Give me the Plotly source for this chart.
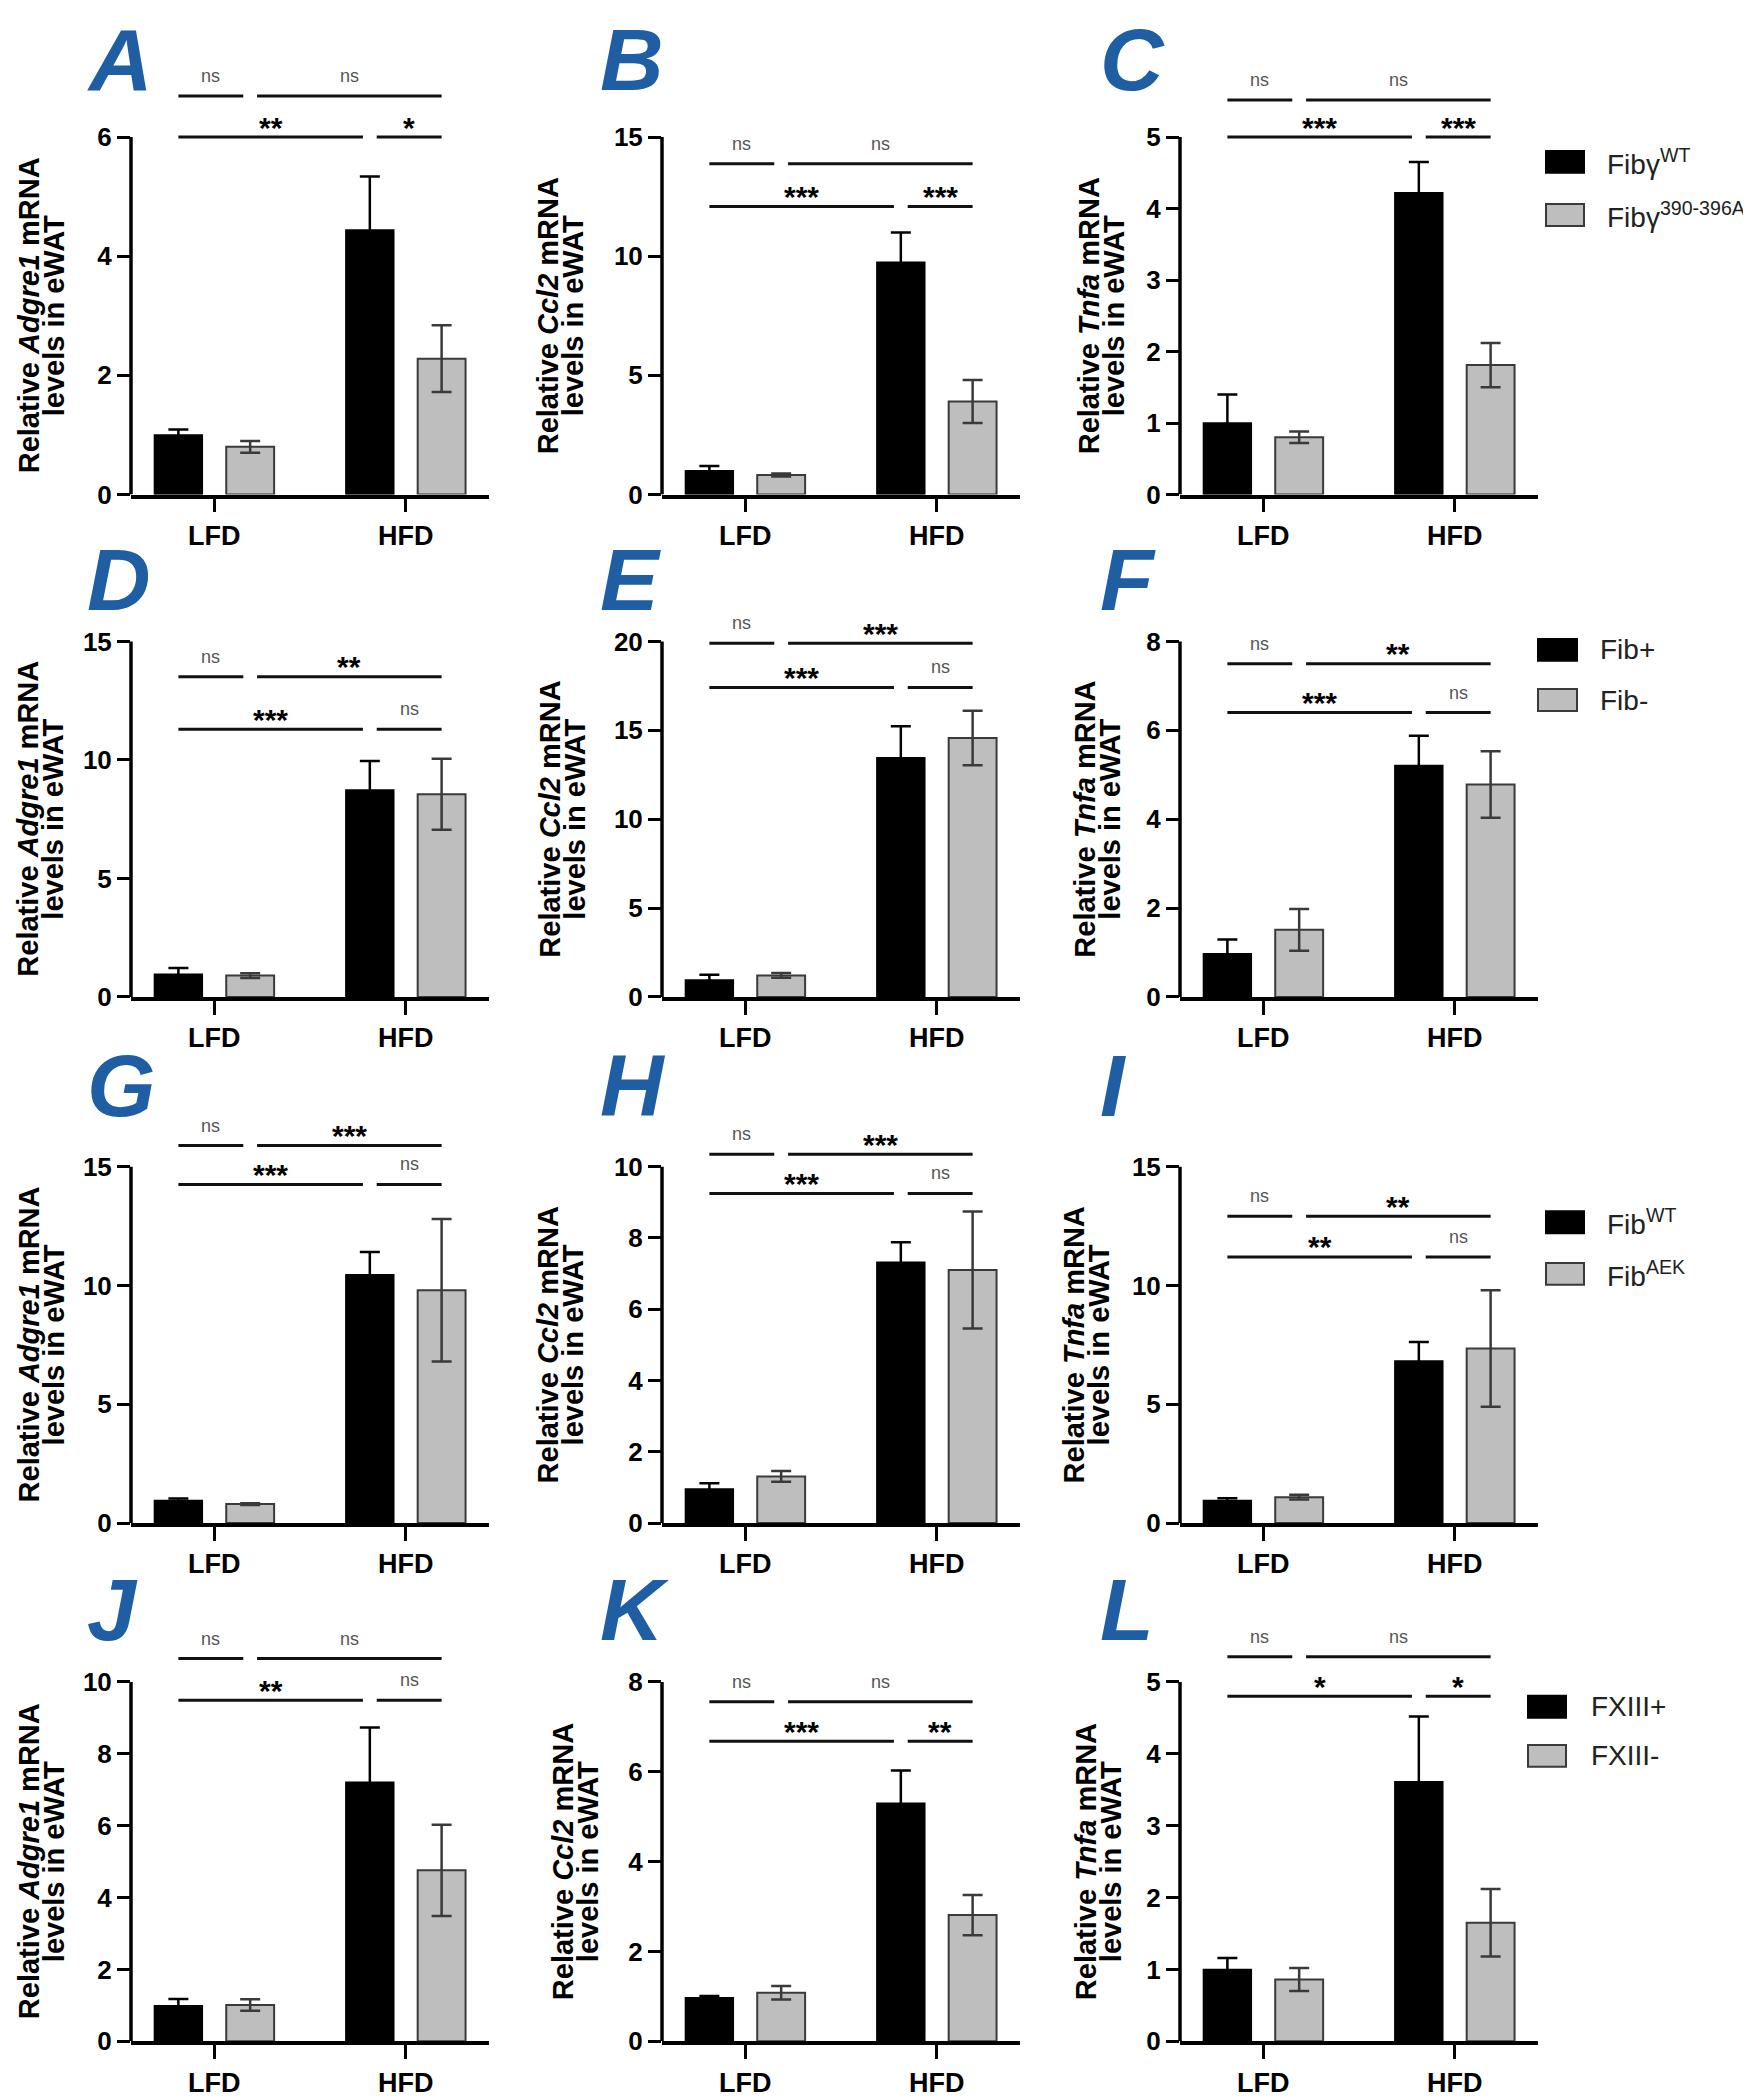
import plotly.graph_objects as go
from plotly.subplots import make_subplots

W, H = 1751, 2100
FONT = "Liberation Sans, Arial, Helvetica, sans-serif"

# ---------------- data ----------------
categories = ["LFD", "HFD"]
panel_letters = ["A", "B", "C", "D", "E", "F", "G", "H", "I", "J", "K", "L"]
genes = ["Adgre1", "Ccl2", "Tnfa"] * 4

black_vals = [[1.0, 4.44], [1.0, 9.75], [1.0, 4.22],
              [0.95, 8.73], [0.95, 13.45], [0.97, 5.21],
              [0.95, 10.45], [0.96, 7.32], [0.95, 6.82],
              [0.99, 7.21], [0.97, 5.30], [1.0, 3.61]]
black_err = [[0.09, 0.90], [0.20, 1.24], [0.40, 0.43],
             [0.27, 1.22], [0.30, 1.78], [0.32, 0.67],
             [0.08, 0.96], [0.16, 0.56], [0.10, 0.80],
             [0.19, 1.52], [0.04, 0.73], [0.16, 0.91]]
gray_vals = [[0.80, 2.28], [0.82, 3.90], [0.80, 1.81],
             [0.90, 8.55], [1.21, 14.57], [1.51, 4.78],
             [0.80, 9.80], [1.31, 7.10], [1.09, 7.35],
             [1.01, 4.76], [1.08, 2.81], [0.86, 1.65]]
gray_err = [[0.10, 0.56], [0.06, 0.90], [0.08, 0.31],
            [0.10, 1.50], [0.13, 1.53], [0.47, 0.75],
            [0.04, 3.00], [0.15, 1.64], [0.10, 2.45],
            [0.16, 1.27], [0.15, 0.45], [0.16, 0.47]]

y_ticks = [[0, 2, 4, 6], [0, 5, 10, 15], [0, 1, 2, 3, 4, 5],
           [0, 5, 10, 15], [0, 5, 10, 15, 20], [0, 2, 4, 6, 8],
           [0, 5, 10, 15], [0, 2, 4, 6, 8, 10], [0, 5, 10, 15],
           [0, 2, 4, 6, 8, 10], [0, 2, 4, 6, 8], [0, 1, 2, 3, 4, 5]]

# significance brackets (heights in data units)
bracket_upper = [6.69, 13.88, 5.52, 13.51, 19.9, 7.5, 15.89, 10.35, 12.91, 10.65, 7.56, 5.35]
bracket_lower = [6.0, 12.09, 5.0, 11.29, 17.41, 6.40, 14.25, 9.25, 11.2, 9.49, 6.68, 4.80]
sig_upper_left = ["ns"] * 12
sig_upper_right = ["ns", "ns", "ns", "**", "***", "**", "***", "***", "**", "ns", "ns", "ns"]
sig_lower_left = ["**", "***", "***", "***", "***", "***", "***", "***", "**", "**", "***", "*"]
sig_lower_right = ["*", "***", "***", "ns", "ns", "ns", "ns", "ns", "ns", "ns", "**", "*"]

legend_labels = [["Fibγ<sup>WT</sup>", "Fibγ<sup>390-396A</sup>"],
                 ["Fib+", "Fib-"],
                 ["Fib<sup>WT</sup>", "Fib<sup>AEK</sup>"],
                 ["FXIII+", "FXIII-"]]

# ---------------- geometry (pixels) ----------------
col_x = [(123, 481), (654, 1012), (1172, 1530)]
row_y = [(50, 490, 130), (600, 996, 638), (1104, 1526, 1167), (1622, 2048, 1686)]  # (domain top, zero, top tick)
title_offset = [90, 102, 79, 90, 99, 82, 90, 102, 94, 90, 87, 82]
letter_x = [77, 590, 1090]
letter_base = [82, 608, 1118, 1646]
legend_geo = [(1538, 1576, 155, 208.5, 1597), (1530, 1569, 646.5, 697, 1590),
              (1538, 1576, 1223, 1275, 1597), (1520, 1558, 1711, 1760.5, 1581)]

BLACK = "#000000"
GRAY = "#BEBEBE"
GRAY_LINE = "#3a3a3a"
BLUE = "#1F5EA3"


def px_x(p):
    return p / W


def px_y(p):
    return 1 - p / H


fig = make_subplots(rows=4, cols=3)

shapes = []
annotations = []
bar_x = [-0.1875, 0.1875, 0.8125, 1.1875]
trim = 0.036

for k in range(12):
    r, c = divmod(k, 3)
    xa = "x" if k == 0 else f"x{k + 1}"
    ya = "y" if k == 0 else f"y{k + 1}"
    xl = "xaxis" if k == 0 else f"xaxis{k + 1}"
    yl = "yaxis" if k == 0 else f"yaxis{k + 1}"

    fig.add_trace(go.Bar(
        x=categories, y=black_vals[k],
        error_y=dict(type="data", array=black_err[k], color=BLACK, thickness=2.5, width=10),
        marker=dict(color=BLACK, line=dict(color=BLACK, width=1.5)),
        xaxis=xa, yaxis=ya, showlegend=False, name=legend_labels[r][0]))
    fig.add_trace(go.Bar(
        x=categories, y=gray_vals[k],
        error_y=dict(type="data", array=gray_err[k], color=GRAY_LINE, thickness=2.5, width=10),
        marker=dict(color=GRAY, line=dict(color=GRAY_LINE, width=2)),
        xaxis=xa, yaxis=ya, showlegend=False, name=legend_labels[r][1]))

    dtop, y0p, ttop = row_y[r]
    tmax = max(y_ticks[k])
    top = tmax * (y0p - dtop) / (y0p - ttop)
    cx0, cx1 = col_x[c]

    fig.layout[xl].update(
        domain=[px_x(cx0), px_x(cx1)], range=[-0.435, 1.435], type="category",
        showline=True, linewidth=3.5, linecolor="black", ticks="outside", ticklen=14,
        tickwidth=3, tickcolor="black", showgrid=False, zeroline=False,
        tickfont=dict(family=FONT, size=27, color="black", weight="bold"))
    fig.layout[yl].update(
        domain=[px_y(y0p), px_y(dtop)], range=[0, top], tickmode="array", tickvals=y_ticks[k],
        showline=False, ticks="outside", ticklen=13, tickwidth=3, tickcolor="black",
        showgrid=False, zeroline=False,
        tickfont=dict(family=FONT, size=26, color="black", weight="bold"))

    # y axis line only up to the top tick
    shapes.append(dict(type="line", xref=f"{xa} domain", x0=0, x1=0, yref=ya, y0=0, y1=tmax,
                       line=dict(color="black", width=3.5)))

    # brackets
    segs = [(bar_x[0], bar_x[1] - trim, bracket_upper[k], sig_upper_left[k]),
            (bar_x[1] + trim, bar_x[3], bracket_upper[k], sig_upper_right[k]),
            (bar_x[0], bar_x[2] - trim, bracket_lower[k], sig_lower_left[k]),
            (bar_x[2] + trim, bar_x[3], bracket_lower[k], sig_lower_right[k])]
    for x0, x1, yv, lab in segs:
        shapes.append(dict(type="line", xref=xa, yref=ya, x0=x0, x1=x1, y0=yv, y1=yv,
                           line=dict(color="#111111", width=3)))
        if lab == "ns":
            annotations.append(dict(xref=xa, yref=ya, x=(x0 + x1) / 2, y=yv, text="ns",
                                    showarrow=False, yanchor="middle", yshift=20,
                                    font=dict(family=FONT, size=18, color="#555555")))
        else:
            annotations.append(dict(xref=xa, yref=ya, x=(x0 + x1) / 2, y=yv, text=lab,
                                    showarrow=False, yanchor="middle", yshift=10,
                                    font=dict(family=FONT, size=30, color="black", weight="bold")))

    # y axis title (two lines), centred on the tick range
    xc = cx0 - title_offset[k]
    yc = (ttop + y0p) / 2
    annotations.append(dict(xref="paper", yref="paper", x=px_x(xc - 12.5), y=px_y(yc),
                            text=f"Relative <i>{genes[k]}</i> mRNA", textangle=-90,
                            showarrow=False, xanchor="center", yanchor="middle",
                            font=dict(family=FONT, size=29, color="black", weight="bold")))
    annotations.append(dict(xref="paper", yref="paper", x=px_x(xc + 12.5), y=px_y(yc),
                            text="levels in eWAT", textangle=-90,
                            showarrow=False, xanchor="center", yanchor="middle",
                            font=dict(family=FONT, size=29, color="black", weight="bold")))

    # panel letter
    if r == 0:
        annotations.append(dict(xref="paper", yref="paper", x=px_x(letter_x[c]), y=1,
                                text=f"<i><b>{panel_letters[k]}</b></i>", showarrow=False,
                                xanchor="left", yanchor="top",
                                font=dict(family=FONT, size=88, color=BLUE)))
    else:
        annotations.append(dict(xref="paper", yref="paper", x=px_x(letter_x[c]),
                                y=px_y(letter_base[r] + 19),
                                text=f"<i><b>{panel_letters[k]}</b></i>", showarrow=False,
                                xanchor="left", yanchor="bottom",
                                font=dict(family=FONT, size=88, color=BLUE)))

# legends
for r in range(4):
    lx0, lx1, cy1, cy2, tx = legend_geo[r]
    for cy, fill, lc, lab in [(cy1, BLACK, BLACK, legend_labels[r][0]),
                              (cy2, GRAY, GRAY_LINE, legend_labels[r][1])]:
        shapes.append(dict(type="rect", xref="paper", yref="paper",
                           x0=px_x(lx0), x1=px_x(lx1), y0=px_y(cy + 11), y1=px_y(cy - 11),
                           fillcolor=fill, line=dict(color=lc, width=2)))
        annotations.append(dict(xref="paper", yref="paper", x=px_x(tx), y=px_y(cy),
                                text=lab, showarrow=False, xanchor="left", yanchor="middle",
                                font=dict(family=FONT, size=28, color="#222222")))

fig.update_layout(
    width=W, height=H, margin=dict(l=0, r=0, t=0, b=0),
    paper_bgcolor="white", plot_bgcolor="white",
    barmode="group", bargap=0.25, bargroupgap=0.333,
    shapes=shapes, annotations=annotations, showlegend=False,
    font=dict(family=FONT, color="black"))

fig.write_html("out.html")
